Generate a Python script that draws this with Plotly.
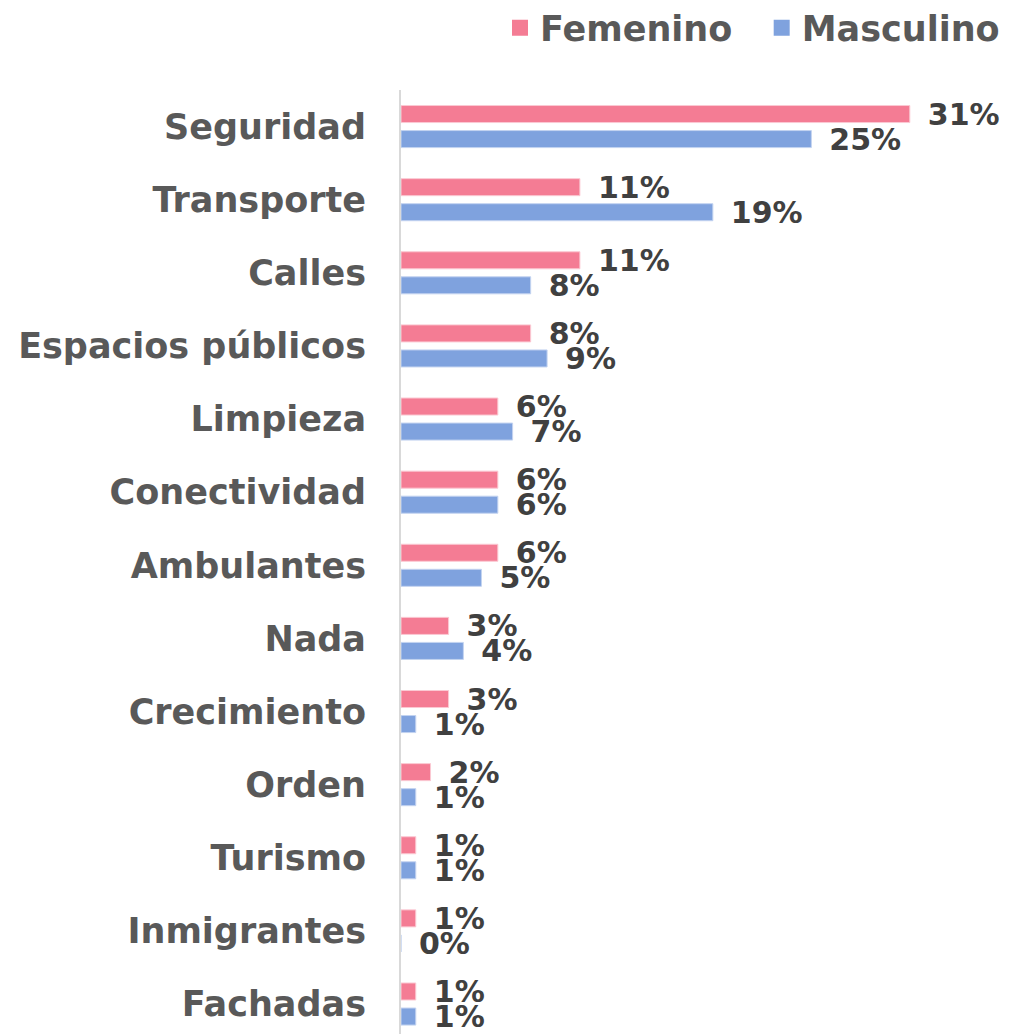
import plotly.graph_objects as go

categorias = ["Seguridad", "Transporte", "Calles", "Espacios públicos", "Limpieza",
              "Conectividad", "Ambulantes", "Nada", "Crecimiento", "Orden",
              "Turismo", "Inmigrantes", "Fachadas"]
femenino = [31, 10.9, 10.9, 7.9, 5.9, 5.9, 5.9, 2.9, 2.9, 1.8, 0.9, 0.9, 0.9]
masculino = [25, 19, 7.9, 8.9, 6.8, 5.9, 4.9, 3.8, 0.9, 0.9, 0.9, 0, 0.9]

fuente = "DejaVu Sans"
rosa = "#F47C94"
azul = "#7FA2DE"

fig = go.Figure()
# el espacio duro separa las dos entradas de la leyenda
for nombre, etiqueta, valores, color, borde in [
        ("Femenino", "Femenino\u00a0\u00a0", femenino, rosa, "#FBC9D3"),
        ("Masculino", "Masculino", masculino, azul, "#C3D3F0")]:
    fig.add_trace(go.Bar(y=categorias, x=valores, name=nombre, orientation="h",
                         marker=dict(color=color, line=dict(color=borde, width=1)),
                         texttemplate="\u2002%{x:.0f}%", textposition="outside",
                         cliponaxis=False, constraintext="none", showlegend=False,
                         textfont=dict(family=fuente, size=30, color="#404040", weight="bold")))
    # entrada de leyenda con cuadrado mas grande
    fig.add_trace(go.Scatter(x=[None], y=[None], mode="markers", name=etiqueta,
                             marker=dict(symbol="square", size=16, color=color)))

fig.update_layout(
    width=997, height=1026,
    margin=dict(l=393, r=0, t=82, b=0),
    plot_bgcolor="white", paper_bgcolor="white",
    barmode="group", bargap=0.315, bargroupgap=0.32,
    font=dict(family=fuente, size=35, color="#595959", weight="bold"),
    legend=dict(orientation="h", xref="container", yref="container",
                x=1.0, xanchor="right", y=0.9805, yanchor="middle",
                itemsizing="trace",
                font=dict(size=35, color="#595959", weight="bold")),
)
fig.update_xaxes(range=[0, 36.8], visible=False, automargin=False)
fig.update_yaxes(categoryorder="array", categoryarray=categorias, automargin=False,
                 range=[12.41, -0.5], showline=True, linecolor="#D9D9D9", linewidth=2,
                 showgrid=False, ticks="", ticklabelstandoff=26,
                 tickfont=dict(size=35, color="#595959", weight="bold"))

fig.write_html("out.html")
